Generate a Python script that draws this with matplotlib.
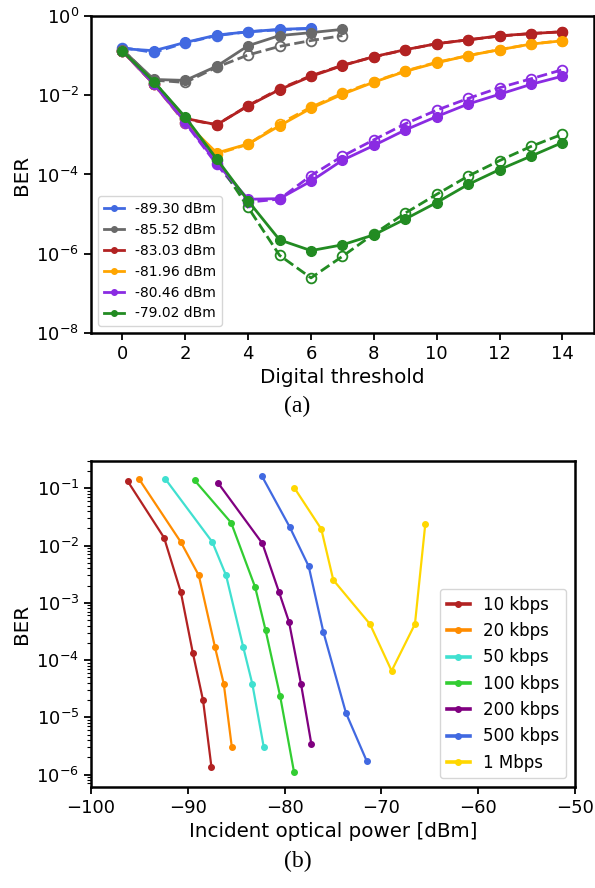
import matplotlib
matplotlib.use("Agg")
import matplotlib.pyplot as plt
from matplotlib.lines import Line2D
import numpy as np

# ---------------- (a) data ----------------
thresholds = list(range(15))
powers_a = ["-89.30 dBm", "-85.52 dBm", "-83.03 dBm", "-81.96 dBm", "-80.46 dBm", "-79.02 dBm"]
colors_a = ["royalblue", "dimgray", "firebrick", "orange", "blueviolet", "forestgreen"]

ber_meas_8930 = [0.15, 0.133, 0.215, 0.33, 0.40, 0.46, 0.49]
ber_sim_8930 = [0.16, 0.12, 0.21, 0.32, 0.40, 0.45, 0.48]

ber_meas_8552 = [0.14, 0.025, 0.0237, 0.054, 0.178, 0.32, 0.38, 0.46]
ber_sim_8552 = [0.14, 0.024, 0.021, 0.051, 0.104, 0.171, 0.24, 0.32]

ber_meas_8303 = [0.13, 0.0196, 0.0026, 0.0018, 0.0054, 0.0139, 0.030, 0.056, 0.094, 0.141, 0.20, 0.25, 0.316, 0.36, 0.40]
ber_sim_8303 = [0.13, 0.019, 0.0025, 0.0018, 0.0055, 0.0145, 0.031, 0.057, 0.093, 0.14, 0.20, 0.25, 0.31, 0.36, 0.40]

ber_meas_8196 = [0.13, 0.019, 0.0021, 3.5e-4, 5.9e-4, 0.0017, 0.0047, 0.0106, 0.0214, 0.040, 0.066, 0.10, 0.141, 0.195, 0.237]
ber_sim_8196 = [0.13, 0.019, 0.0020, 3.3e-4, 5.8e-4, 0.0019, 0.0050, 0.0112, 0.022, 0.041, 0.068, 0.10, 0.142, 0.195, 0.24]

ber_meas_8046 = [0.13, 0.019, 0.0021, 1.95e-4, 2.37e-5, 2.46e-5, 6.8e-5, 2.29e-4, 5.4e-4, 0.00133, 0.0029, 0.006, 0.0106, 0.0188, 0.0303]
ber_sim_8046 = [0.13, 0.019, 0.0020, 1.8e-4, 2.0e-5, 2.4e-5, 9.4e-5, 2.9e-4, 7.5e-4, 0.0019, 0.0042, 0.0083, 0.0155, 0.026, 0.044]

ber_meas_7902 = [0.13, 0.022, 0.0028, 2.47e-4, 2.15e-5, 2.24e-6, 1.2e-6, 1.68e-6, 3.0e-6, 7.5e-6, 1.96e-5, 5.6e-5, 1.33e-4, 2.9e-4, 6.4e-4]
ber_sim_7902 = [0.13, 0.022, 0.0026, 2.3e-4, 1.47e-5, 9.1e-7, 2.46e-7, 8.6e-7, 3.16e-6, 1.06e-5, 3.16e-5, 9.1e-5, 2.24e-4, 5.1e-4, 1.04e-3]

meas_a = [ber_meas_8930, ber_meas_8552, ber_meas_8303, ber_meas_8196, ber_meas_8046, ber_meas_7902]
sim_a = [ber_sim_8930, ber_sim_8552, ber_sim_8303, ber_sim_8196, ber_sim_8046, ber_sim_7902]

# ---------------- (b) data ----------------
rates_b = ["10 kbps", "20 kbps", "50 kbps", "100 kbps", "200 kbps", "500 kbps", "1 Mbps"]
colors_b = ["firebrick", "darkorange", "turquoise", "limegreen", "purple", "royalblue", "gold"]

p_10k = [-96.2, -92.45, -90.72, -89.48, -88.42, -87.56]
b_10k = [0.132, 0.0137, 0.00154, 1.34e-4, 1.97e-5, 1.38e-6]
p_20k = [-95.06, -90.72, -88.86, -87.18, -86.28, -85.45]
b_20k = [0.147, 0.0115, 0.00301, 1.66e-4, 3.84e-5, 3.04e-6]
p_50k = [-92.34, -87.46, -86.04, -84.26, -83.33, -82.15]
b_50k = [0.147, 0.0115, 0.0030, 1.66e-4, 3.84e-5, 3.04e-6]
p_100k = [-89.30, -85.52, -83.03, -81.96, -80.46, -79.02]
b_100k = [0.138, 0.0251, 0.00186, 3.33e-4, 2.37e-5, 1.11e-6]
p_200k = [-86.84, -82.29, -80.57, -79.54, -78.30, -77.23]
b_200k = [0.122, 0.0109, 0.00154, 4.66e-4, 3.84e-5, 3.43e-6]
p_500k = [-82.36, -79.46, -77.50, -75.99, -73.65, -71.51]
b_500k = [0.166, 0.021, 0.00433, 3.11e-4, 1.19e-5, 1.73e-6]
p_1M = [-78.99, -76.20, -74.96, -71.17, -68.93, -66.52, -65.45]
b_1M = [0.102, 0.0194, 0.0025, 4.25e-4, 6.47e-5, 4.25e-4, 0.0238]

powers_b = [p_10k, p_20k, p_50k, p_100k, p_200k, p_500k, p_1M]
bers_b = [b_10k, b_20k, b_50k, b_100k, b_200k, b_500k, b_1M]

# ---------------- figure ----------------
plt.rcParams['font.family'] = ['DejaVu Sans']
fig = plt.figure(figsize=(5.95, 8.88), dpi=100)

axA = fig.add_axes([0.153, 0.625, 0.845, 0.357])
for m, s, c in zip(meas_a, sim_a, colors_a):
    axA.plot(thresholds[:len(s)], s, '--', color=c, lw=2, marker='o', ms=7,
             mfc='none', mec=c, mew=1.3, zorder=2)
    axA.plot(thresholds[:len(m)], m, '-', color=c, lw=2, marker='o', ms=7,
             mfc=c, mec=c, zorder=3)
axA.set_yscale('log')
axA.set_ylim(1e-8, 1)
axA.set_xlim(-1, 15)
axA.set_xticks(range(0, 15, 2))
axA.set_yticks([1e-8, 1e-6, 1e-4, 1e-2, 1])
axA.yaxis.set_minor_locator(matplotlib.ticker.NullLocator())
axA.set_xlabel("Digital threshold", fontsize=14.3)
axA.set_ylabel("BER", fontsize=14.3)
axA.tick_params(labelsize=13, width=1.3, length=5)
for sp in axA.spines.values():
    sp.set_linewidth(1.8)
handlesA = [Line2D([0], [0], color=c, lw=2, marker='o', ms=4) for c in colors_a]
axA.legend(handlesA, powers_a, loc='lower left', fontsize=10, handlelength=1.5,
           bbox_to_anchor=(0.0, 0.0))

axB = fig.add_axes([0.153, 0.114, 0.813, 0.367])
for p, b, c in zip(powers_b, bers_b, colors_b):
    axB.plot(p, b, '-', color=c, lw=1.6, marker='o', ms=4)
axB.set_yscale('log')
axB.set_xlim(-100, -50)
axB.set_xticks([-100, -90, -80, -70, -60, -50])
axB.set_xlabel("Incident optical power [dBm]", fontsize=14.3)
axB.set_ylabel("BER", fontsize=14.3)
axB.tick_params(labelsize=13, width=1.3, length=5)
axB.tick_params(which='minor', width=0.8, length=3)
for sp in axB.spines.values():
    sp.set_linewidth(1.8)
handlesB = [Line2D([0], [0], color=c, lw=2.6, marker='o', ms=4) for c in colors_b]
axB.legend(handlesB, rates_b, loc='lower right', fontsize=12, handlelength=1.4)

fig.text(0.5, 1 - 406 / 888, "(a)", ha='center', va='center', fontsize=17,
         family='Liberation Serif')
fig.text(0.5, 1 - 861 / 888, "(b)", ha='center', va='center', fontsize=17,
         family='Liberation Serif')

fig.savefig("out.png", dpi=100)
